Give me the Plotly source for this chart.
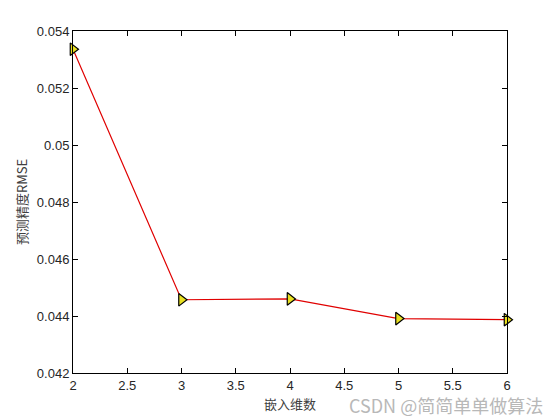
import plotly.graph_objects as go

dims = [2, 3, 4, 5, 6]
rmse = [0.05336, 0.04457, 0.04460, 0.04391, 0.04387]
x_ticks = [2, 2.5, 3, 3.5, 4, 4.5, 5, 5.5, 6]
x_tick_labels = ["2", "2.5", "3", "3.5", "4", "4.5", "5", "5.5", "6"]
y_ticks = [0.042, 0.044, 0.046, 0.048, 0.05, 0.052, 0.054]
y_tick_labels = ["0.042", "0.044", "0.046", "0.048", "0.05", "0.052", "0.054"]

fig = go.Figure()
fig.add_trace(go.Scatter(
    x=dims, y=rmse, mode="lines+markers",
    line=dict(color="#e00000", width=1.2),
    marker=dict(symbol="triangle-right", size=11, color="#e8e020",
                line=dict(color="black", width=1.2)),
    cliponaxis=False,
))

axis_common = dict(
    showgrid=False, zeroline=False, showline=True, linecolor="black", linewidth=1,
    mirror="ticks", ticks="inside", ticklen=5, tickcolor="black",
    tickfont=dict(family="Liberation Sans, Arial", size=13, color="#262626"),
)
fig.update_xaxes(range=[2, 6], tickvals=x_ticks, ticktext=x_tick_labels,
                 title=dict(text="嵌入维数", font=dict(family="Noto Sans CJK SC", size=13, color="#404040"), standoff=8),
                 **axis_common)
fig.update_yaxes(range=[0.042, 0.054], tickvals=y_ticks, ticktext=y_tick_labels,
                 title=dict(text="预测精度RMSE", font=dict(family="Noto Sans CJK SC, Liberation Sans", size=13, color="#404040"), standoff=6),
                 **axis_common)

fig.add_annotation(text="CSDN @简简单单做算法", xref="paper", yref="paper",
                   x=1.088, y=-0.094, xanchor="right", yanchor="middle", showarrow=False,
                   font=dict(family="Noto Sans CJK SC", size=18, color="#b8b8b8"))

fig.update_layout(
    width=560, height=420,
    margin=dict(l=65, r=61, t=23, b=55),
    paper_bgcolor="white", plot_bgcolor="white",
    showlegend=False,
)
fig.write_html("out.html")
